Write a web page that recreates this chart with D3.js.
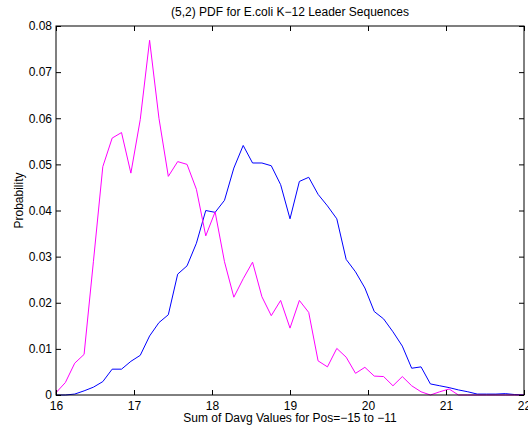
<!DOCTYPE html>
<html>
<head>
<meta charset="utf-8">
<script src="https://cdn.jsdelivr.net/npm/d3@7"></script>
<style>
  body { margin: 0; background: #fff; }
  svg { font-family: "Liberation Sans", Arial, Helvetica, sans-serif; }
  .axis text { font-size: 12px; fill: #000; }
  .axis line { stroke: #000; }
</style>
</head>
<body>
<div id="chart"></div>
<script>
var margin = { top: 26, right: 4, bottom: 35, left: 56 },
    width = 528 - margin.left - margin.right,
    height = 430 - margin.top - margin.bottom;

// bin positions (x) for both curves
var bins = [16.00, 16.12, 16.24, 16.36, 16.48, 16.60, 16.72, 16.84, 16.96, 17.08,
            17.20, 17.32, 17.44, 17.56, 17.68, 17.80, 17.92, 18.04, 18.16, 18.28,
            18.40, 18.52, 18.64, 18.76, 18.88, 19.00, 19.12, 19.24, 19.36, 19.48,
            19.60, 19.72, 19.84, 19.96, 20.08, 20.20, 20.32, 20.44, 20.56, 20.68,
            20.80, 20.92, 21.04, 21.16, 21.28, 21.40, 21.52, 21.64, 21.76, 21.88, 22.00];

var blueValues = [0, 0, 0.0002, 0.0009, 0.0017, 0.0029, 0.0056, 0.0056, 0.0073, 0.0086,
                  0.0128, 0.0157, 0.0174, 0.0262, 0.0280, 0.0329, 0.0400, 0.0396, 0.0422, 0.0492,
                  0.0541, 0.0503, 0.0503, 0.0497, 0.0456, 0.0382, 0.0463, 0.0472, 0.0435, 0.0410,
                  0.0382, 0.0294, 0.0267, 0.0232, 0.0181, 0.0165, 0.0137, 0.0106, 0.0058, 0.0061,
                  0.0024, 0.0020, 0.0016, 0.0011, 0.0007, 0.0002, 0.0002, 0.0002, 0.0003, 0.0001, 0];

var magentaValues = [0.0005, 0.0027, 0.0069, 0.0088, 0.0290, 0.0495, 0.0557, 0.0569, 0.0481, 0.0597,
                     0.0769, 0.0600, 0.0474, 0.0506, 0.0500, 0.0446, 0.0345, 0.0397, 0.0289, 0.0212,
                     0.0252, 0.0288, 0.0213, 0.0172, 0.0205, 0.0145, 0.0205, 0.0179, 0.0074, 0.0061,
                     0.0101, 0.0082, 0.0047, 0.0060, 0.0041, 0.0040, 0.0020, 0.0040, 0.0020, 0.0007,
                     0, 0.0007, 0.0013, 0, 0, 0, 0, 0, 0, 0, 0];

var xTicks = [16, 17, 18, 19, 20, 21, 22];
var yTicks = [0, 0.01, 0.02, 0.03, 0.04, 0.05, 0.06, 0.07, 0.08];

var titleText = "(5,2) PDF for E.coli K\u221212 Leader Sequences";
var xLabelText = "Sum of Davg Values for Pos=\u221215 to \u221211";
var yLabelText = "Probability";

var svg = d3.select("#chart")
    .append("svg")
    .attr("width", width + margin.left + margin.right)
    .attr("height", height + margin.top + margin.bottom)
    .append("g")
    .attr("transform", "translate(" + margin.left + "," + margin.top + ")");

var x = d3.scaleLinear().domain([16, 22]).range([0, width]);
var y = d3.scaleLinear().domain([0, 0.08]).range([height, 0]);

function yFmt(d) { return d === 0 ? "0" : d3.format(".2f")(d); }

// lines
var line = d3.line()
    .x(function (d) { return x(d[0]); })
    .y(function (d) { return y(d[1]); });

svg.append("path")
    .datum(d3.zip(bins, blueValues))
    .attr("fill", "none")
    .attr("stroke", "#0000ff")
    .attr("stroke-width", 1)
    .attr("d", line);

svg.append("path")
    .datum(d3.zip(bins, magentaValues))
    .attr("fill", "none")
    .attr("stroke", "#ff00ff")
    .attr("stroke-width", 1)
    .attr("d", line);

// axes, ticks inward on all four sides
svg.append("g")
    .attr("class", "axis")
    .attr("transform", "translate(0," + height + ")")
    .call(d3.axisBottom(x).tickValues(xTicks).tickSizeInner(-5).tickSizeOuter(0).tickPadding(6).tickFormat(d3.format("d")));

svg.append("g")
    .attr("class", "axis")
    .call(d3.axisLeft(y).tickValues(yTicks).tickSizeInner(-5).tickSizeOuter(0).tickPadding(4).tickFormat(yFmt));

svg.append("g")
    .attr("class", "axis")
    .call(d3.axisTop(x).tickValues(xTicks).tickSizeInner(-5).tickSizeOuter(0).tickFormat(""));

svg.append("g")
    .attr("class", "axis")
    .attr("transform", "translate(" + width + ",0)")
    .call(d3.axisRight(y).tickValues(yTicks).tickSizeInner(-5).tickSizeOuter(0).tickFormat(""));

svg.selectAll(".axis .domain").remove();

svg.append("rect")
    .attr("x", 0)
    .attr("y", 0)
    .attr("width", width)
    .attr("height", height)
    .attr("fill", "none")
    .attr("stroke", "#000")
    .attr("stroke-width", 1);

// title and labels
svg.append("text")
    .attr("x", width / 2)
    .attr("y", -10)
    .attr("text-anchor", "middle")
    .style("font-size", "12px")
    .text(titleText);

svg.append("text")
    .attr("x", width / 2)
    .attr("y", height + 27)
    .attr("text-anchor", "middle")
    .style("font-size", "12px")
    .text(xLabelText);

svg.append("text")
    .attr("transform", "rotate(-90)")
    .attr("x", -height / 2 + 10)
    .attr("y", -33)
    .attr("text-anchor", "middle")
    .style("font-size", "12px")
    .text(yLabelText);
</script>
</body>
</html>
